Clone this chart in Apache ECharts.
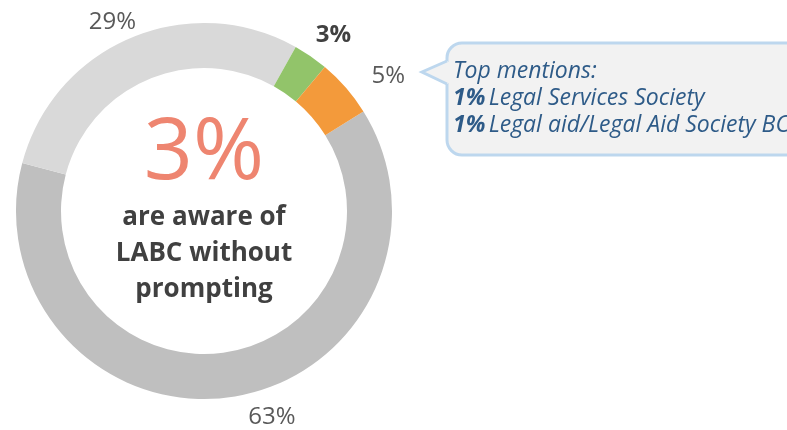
<!DOCTYPE html>
<html>
<head>
<meta charset="utf-8">
<script src="https://cdn.jsdelivr.net/npm/echarts@6/dist/echarts.min.js"></script>
<style>
  html, body { margin: 0; padding: 0; background: #fff; }
  #main { width: 787px; height: 430px; }
</style>
</head>
<body>
<div id="main"></div>
<script>
// data, clockwise from the orange/grey boundary
const categories = ['Not aware', 'Other', 'Aware without prompting', 'Aware (other)'];
const values = [63, 29, 3, 5];
const colors = ['#bfbfbf', '#d9d9d9', '#92c46a', '#f39a3b'];
const mentions = ['Legal Services Society', 'Legal aid/Legal Aid Society BC'];
const mentionValues = [1, 1];

// small nudges so the outside labels sit where the original put them
const labelNudge = [[9, 6], [16, -3], [-8, -10], [10, -2]];

let chart = echarts.init(document.getElementById('main'));

const font = '"Open Sans", "Noto Sans", sans-serif';
const boxFill = '#f2f2f2';
const boxLine = '#bdd7ee';

let option = {
    animation: false,
    series: [
        {
            type: 'pie',
            center: [204, 211],
            radius: [143, 188],
            startAngle: 32,
            clockwise: true,
            silent: true,
            data: categories.map(function (c, i) {
                let item = {
                    name: c,
                    value: values[i],
                    itemStyle: { color: colors[i] }
                };
                if (i === 2) {
                    item.label = { fontWeight: 'bold', color: '#404040' };
                }
                return item;
            }),
            label: {
                show: true,
                position: 'outside',
                formatter: '{c}%',
                fontFamily: font,
                fontSize: 24,
                color: '#595959'
            },
            labelLine: { show: false, length: 14, length2: 0 },
            labelLayout: function (params) {
                let n = labelNudge[params.dataIndex];
                return { dx: n[0], dy: n[1] };
            },
            itemStyle: { borderWidth: 0 }
        }
    ],
    graphic: [
        {
            type: 'text',
            x: 204, y: 154,
            style: {
                text: values[2] + '%',
                font: '86px ' + font,
                fill: '#ee8570',
                align: 'center',
                verticalAlign: 'middle'
            }
        },
        {
            type: 'text',
            x: 204, y: 200,
            style: {
                text: 'are aware of\nLABC without\nprompting',
                font: 'bold 26px ' + font,
                fill: '#404040',
                align: 'center',
                lineHeight: 36
            }
        },
        // callout box
        {
            type: 'rect',
            shape: { x: 447, y: 43, width: 360, height: 112, r: 15 },
            style: { fill: boxFill, stroke: boxLine, lineWidth: 3 }
        },
        {
            type: 'rect',
            shape: { x: 444, y: 62, width: 6, height: 21 },
            style: { fill: boxFill }
        },
        {
            type: 'polygon',
            shape: { points: [[448, 61], [422, 72], [448, 84]] },
            style: { fill: boxFill }
        },
        {
            type: 'polyline',
            shape: { points: [[447, 61], [422, 72], [447, 84]] },
            style: { fill: null, stroke: boxLine, lineWidth: 3 }
        },
        {
            type: 'text',
            x: 453, y: 58,
            style: {
                text: '{n|Top mentions:}\n' + mentions.map(function (m, i) {
                    return '{b|' + mentionValues[i] + '%} {n|' + m + '}';
                }).join('\n'),
                fill: '#2e5b88',
                rich: {
                    n: { font: 'italic 23px ' + font, fill: '#2e5b88', lineHeight: 27 },
                    b: { font: 'italic bold 23px ' + font, fill: '#2e5b88', lineHeight: 27 }
                }
            }
        }
    ]
};

chart.setOption(option);
</script>
</body>
</html>
